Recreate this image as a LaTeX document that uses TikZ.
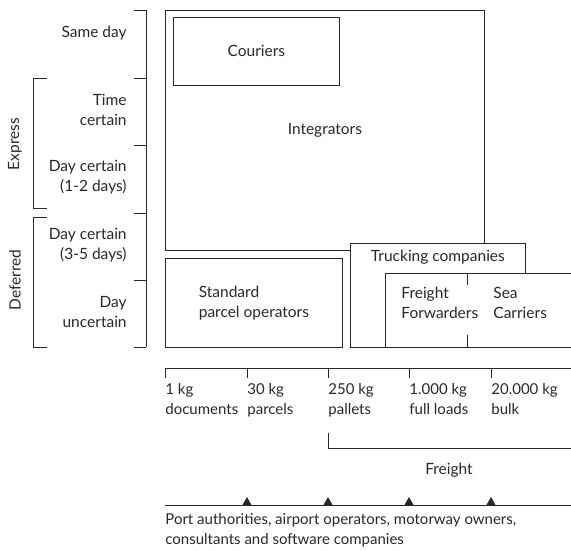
\documentclass[tikz,border=0pt]{standalone}
\usepackage{fontspec}
\setmainfont{Lato}
\usetikzlibrary{positioning}
\definecolor{ink}{RGB}{40,40,40}

\begin{document}
\begin{tikzpicture}[x=1pt, y=-1pt, line width=0.8pt, draw=ink,
  every node/.style={text=ink, font=\fontsize{15.5}{20.5}\selectfont},
  box/.style={draw=ink, fill=white, anchor=north west, inner sep=0pt},
  rowlabel/.style={anchor=east, align=right, inner sep=0pt},
  scalelabel/.style={anchor=north west, align=left, inner sep=0pt,
    font=\fontsize{15}{20}\selectfont}]
\useasboundingbox (0,0) rectangle (571,551);
\clip (0,0) rectangle (571,551);

% service levels
\node[rowlabel] (sameday) at (127,33) {Same day};
\node[rowlabel] (timecert) at (127,110) {Time\\certain};
\node[rowlabel] (daycertA) at (127,177) {Day certain\\(1-2 days)};
\node[rowlabel] (daycertB) at (127,245) {Day certain\\(3-5 days)};
\node[rowlabel] (dayuncert) at (127,312) {Day\\uncertain};
\draw (146,10) -- (146,347);
\foreach \y in {10,78,145,213,280,347}
  \draw (134,\y) -- (146,\y);
\draw (47,78) -- (33,78) -- (33,208) -- (47,208);
\draw (47,217) -- (33,217) -- (33,347) -- (47,347);
\node[rotate=90] (express) at (15,144) {Express};
\node[rotate=90] (deferred) at (15,280) {Deferred};

% operators
\node[box, minimum width=319pt, minimum height=240pt] (integ) at (165,10) {Integrators};
\node[box, minimum width=166pt, minimum height=68pt] (couriers) at (173,17) {Couriers};
\node[box, minimum width=177pt, minimum height=89pt, align=left] (parcel) at (165,258) {Standard\\parcel operators};
\node[box, minimum width=175pt, minimum height=104pt] (truck) at (350,243) {};
\node[below=3pt of truck.north] (trucklbl) {Trucking companies};
\node[box, minimum width=200pt, minimum height=74pt] (fwd) at (385,273) {};
\draw (467,273) -- (467,285) (467,335) -- (467,347);
\node[anchor=west, align=left, inner sep=0pt] (fwdlbl) at (401,303) {Freight\\Forwarders};
\node[anchor=west, align=left, inner sep=0pt] (sealbl) at (493,303) {Sea\\Carriers};

% weight scale
\draw (165,368) -- (575,368);
\foreach \x in {165,247,328,409,491}
  \draw (\x,368) -- (\x,378);
\node[scalelabel] (kgA) at (165,383) {1 kg\\documents};
\node[scalelabel] (kgB) at (247,383) {30 kg\\parcels};
\node[scalelabel] (kgC) at (328,383) {250 kg\\pallets};
\node[scalelabel] (kgD) at (409,383) {1.000 kg\\full loads};
\node[scalelabel] (kgE) at (491,383) {20.000 kg\\bulk};
\draw (328,433) -- (328,448) -- (575,448);
\node (freight) at (449,470) {Freight};

% infrastructure
\draw (165,505) -- (575,505);
\foreach \x in {247,328,409,491}
  \fill[ink] (\x-4.5,505) -- (\x,497) -- (\x+4.5,505) -- cycle;
\node[scalelabel] (infra) at (165,513) {Port authorities, airport operators, motorway owners,\\consultants and software companies};
\end{tikzpicture}
\end{document}
